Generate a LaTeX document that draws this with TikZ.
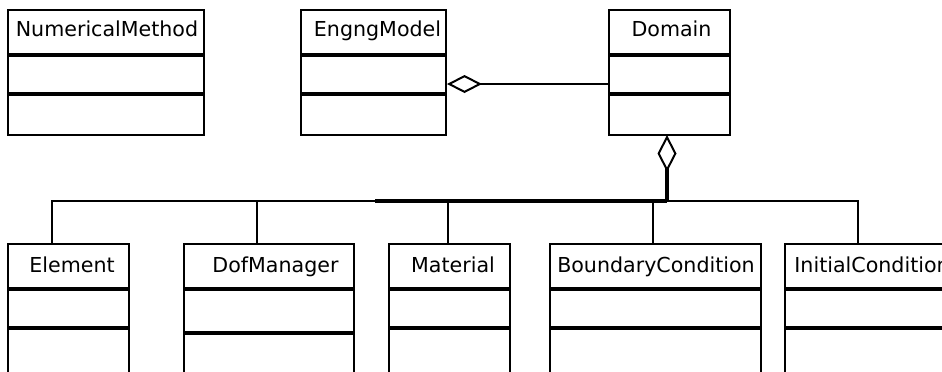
\documentclass[tikz,border=0pt]{standalone}
\usepackage{fontspec}
\setmainfont{DejaVu Sans}
\usetikzlibrary{arrows.meta}

\tikzset{
  classbox/.style={draw, line width=1pt, inner sep=0pt, minimum height=78pt},
  headbox/.style={draw, line width=1pt, inner sep=0pt, minimum height=62.5pt},
  divider/.style={line width=1.6pt},
  classname/.style={anchor=base, inner sep=0pt, font=\fontsize{10.3}{12.5}\selectfont},
  assoc/.style={line width=1pt},
}

\begin{document}
\begin{tikzpicture}[x=0.5pt, y=-0.5pt]
    \clip (0,0) rectangle (942,371);

    % the classes in the top row
    \node[headbox, minimum width=98pt] (nm) at (106,72.5) {};
    \node[headbox, minimum width=72.5pt] (em) at (373.5,72.5) {};
    \node[headbox, minimum width=60.5pt] (dom) at (669.5,72.5) {};

    % the classes in the bottom row (cut off by the clip)
    \node[classbox, minimum width=60.5pt] (el) at (68.5,322) {};
    \node[classbox, minimum width=85pt] (dof) at (269,322) {};
    \node[classbox, minimum width=60.5pt] (mat) at (449.5,322) {};
    \node[classbox, minimum width=105.5pt] (bc) at (655.5,322) {};
    \node[classbox, minimum width=87.5pt] (ic) at (872.5,322) {};

    % the names
    \node[classname] (nm-name) at (107,36) {NumericalMethod};
    \node[classname] (em-name) at (377.5,36) {EngngModel};
    \node[classname] (dom-name) at (671.5,36) {Domain};
    \node[classname] (el-name) at (72,272) {Element};
    \node[classname] (dof-name) at (275.5,272) {DofManager};
    \node[classname] (mat-name) at (453,272) {Material};
    \node[classname] (bc-name) at (656,272) {BoundaryCondition};
    \node[classname, anchor=base west] (ic-name) at (794,272) {InitialCondition};

    % the compartment lines
    \foreach \c in {nm,em,dom} {
        \draw[divider] (\c.west |- 0,55) -- (\c.east |- 0,55);
        \draw[divider] (\c.west |- 0,94) -- (\c.east |- 0,94);
    }
    \foreach \c in {el,mat,bc,ic} {
        \draw[divider] (\c.west |- 0,289) -- (\c.east |- 0,289);
        \draw[divider] (\c.west |- 0,328) -- (\c.east |- 0,328);
    }
    \draw[divider] (dof.west |- 0,289) -- (dof.east |- 0,289);
    \draw[divider] (dof.west |- 0,333) -- (dof.east |- 0,333);

    % aggregation EngngModel - Domain
    \draw[assoc, -{Diamond[open, length=17.5pt, width=9pt]}] (dom.west |- 0,84) -- (em.east |- 0,84);

    % aggregation Domain - parts
    \coordinate (bus) at (667,201);
    \draw[line width=2pt, -{Diamond[open, length=18.5pt, width=9.5pt, line width=1pt, sep=-0.5pt]}] (bus) -- (dom.south -| 667,0);
    \draw[line width=2pt] (bus) -- (375,201);
    \draw[assoc] (bus) -| (el.north -| 52,0);
    \draw[assoc] (bus) -| (dof.north -| 257,0);
    \draw[assoc] (bus) -| (mat.north -| 448,0);
    \draw[assoc] (bus) -| (bc.north -| 652.7,0);
    \draw[assoc] (bus) -| (ic.north -| 857.7,0);

\end{tikzpicture}
\end{document}
